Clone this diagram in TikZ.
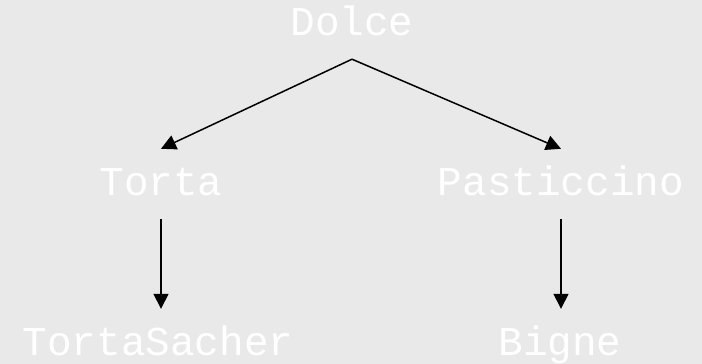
\documentclass[tikz,border=0pt]{standalone}
\usepackage{fontspec}
\setmonofont{Liberation Mono}
\usetikzlibrary{arrows.meta}
\definecolor{SlideGray}{RGB}{233,233,233}

\begin{document}
\begin{tikzpicture}[x=1pt,y=-1pt,
		word/.style={anchor=base,text=white,inner sep=0pt,text height=46pt,text depth=24pt,font=\ttfamily\fontsize{41}{41}\selectfont},
		link/.style={black,line width=1.5pt,-{Triangle[length=15pt,width=15pt]}}]
			\fill[SlideGray] (0,0) rectangle (702,364);
			\useasboundingbox (0,0) rectangle (702,364);
			\node[word] (dolce) at (352,35) {Dolce};
			\node[word] (torta) at (161,195) {Torta};
			\node[word] (pasticcino) at (561,195) {Pasticcino};
			\node[word] (sacher) at (158,355) {TortaSacher};
			\node[word] (bigne) at (560,355) {Bigne};
			\draw[link] (dolce.south) -- (torta.north);
			\draw[link] (dolce.south) -- (pasticcino.north);
			\draw[link] (torta.south) -- (torta.south |- sacher.north);
			\draw[link] (pasticcino.south) -- (pasticcino.south |- bigne.north);
		\end{tikzpicture}
\end{document}
